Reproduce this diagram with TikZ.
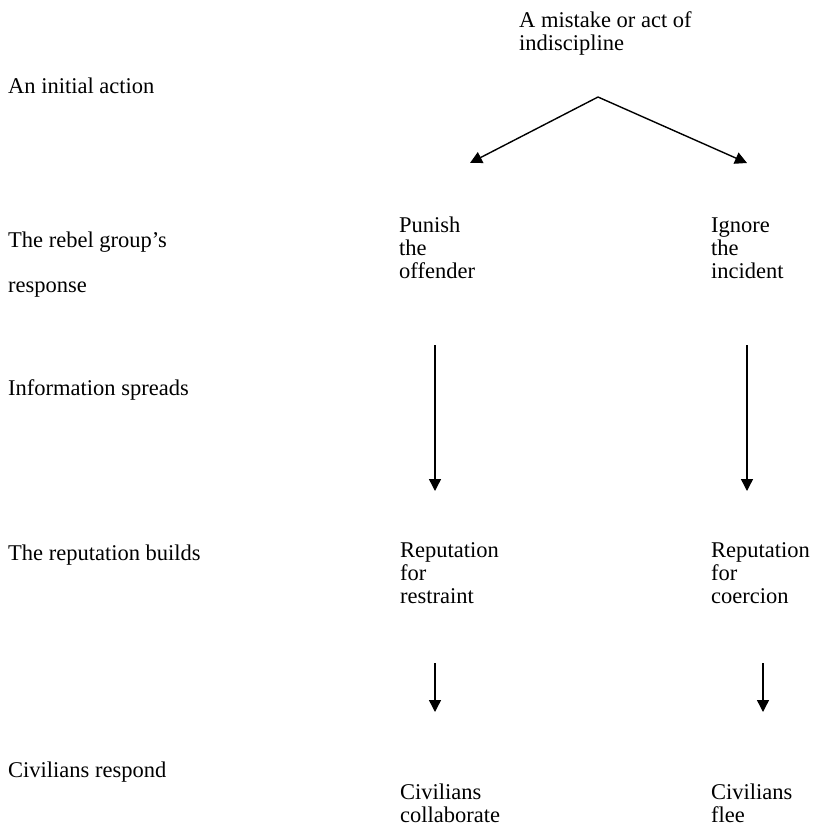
\documentclass[tikz,border=0pt]{standalone}
\usepackage{fontspec}
\setmainfont{Liberation Serif}
\usetikzlibrary{arrows.meta}
\begin{document}
\begin{tikzpicture}[x=1pt,y=-1pt,
  lbl/.style={anchor=base west,inner sep=0pt,align=left,font=\fontsize{22.5}{23}\selectfont},
  conn/.style={line width=1.4pt,-{Triangle[length=12pt,width=12pt]}}]
\useasboundingbox (0,0) rectangle (815,828);
% left-hand stage labels
\node[lbl] (s1) at (8,93) {An initial action};
\node[lbl] (s2) at (8,247) {The rebel group’s};
\node[lbl] (s2b) at (8,292) {response};
\node[lbl] (s3) at (8,395) {Information spreads};
\node[lbl] (s4) at (8,560) {The reputation builds};
\node[lbl] (s5) at (8,777) {Civilians respond};
% flow text (anchor = baseline of the last line)
\node[lbl] (top) at (519,50) {A mistake or act of\\indiscipline};
\node[lbl] (pun) at (399,278) {Punish\\the\\offender};
\node[lbl] (ign) at (711,278) {Ignore\\the\\incident};
\node[lbl] (rr) at (400,603) {Reputation\\for\\restraint};
\node[lbl] (rc) at (711,603) {Reputation\\for\\coercion};
\node[lbl] (cc) at (400,822) {Civilians\\collaborate};
\node[lbl] (cf) at (711,822) {Civilians\\flee};
% connector end points
\coordinate (apex) at (598,97);
\coordinate (tl) at (470,163);
\coordinate (tr) at (747,163);
\coordinate (v1a) at (435,345);
\coordinate (v1b) at (435,491);
\coordinate (v2a) at (747,345);
\coordinate (v2b) at (747,491);
\coordinate (w1a) at (435,663);
\coordinate (w1b) at (435,712);
\coordinate (w2a) at (763,663);
\coordinate (w2b) at (763,712);
\draw[conn] (apex) -- (tl);
\draw[conn] (apex) -- (tr);
\draw[conn] (v1a) -- (v1b);
\draw[conn] (v2a) -- (v2b);
\draw[conn] (w1a) -- (w1b);
\draw[conn] (w2a) -- (w2b);
\end{tikzpicture}
\end{document}
